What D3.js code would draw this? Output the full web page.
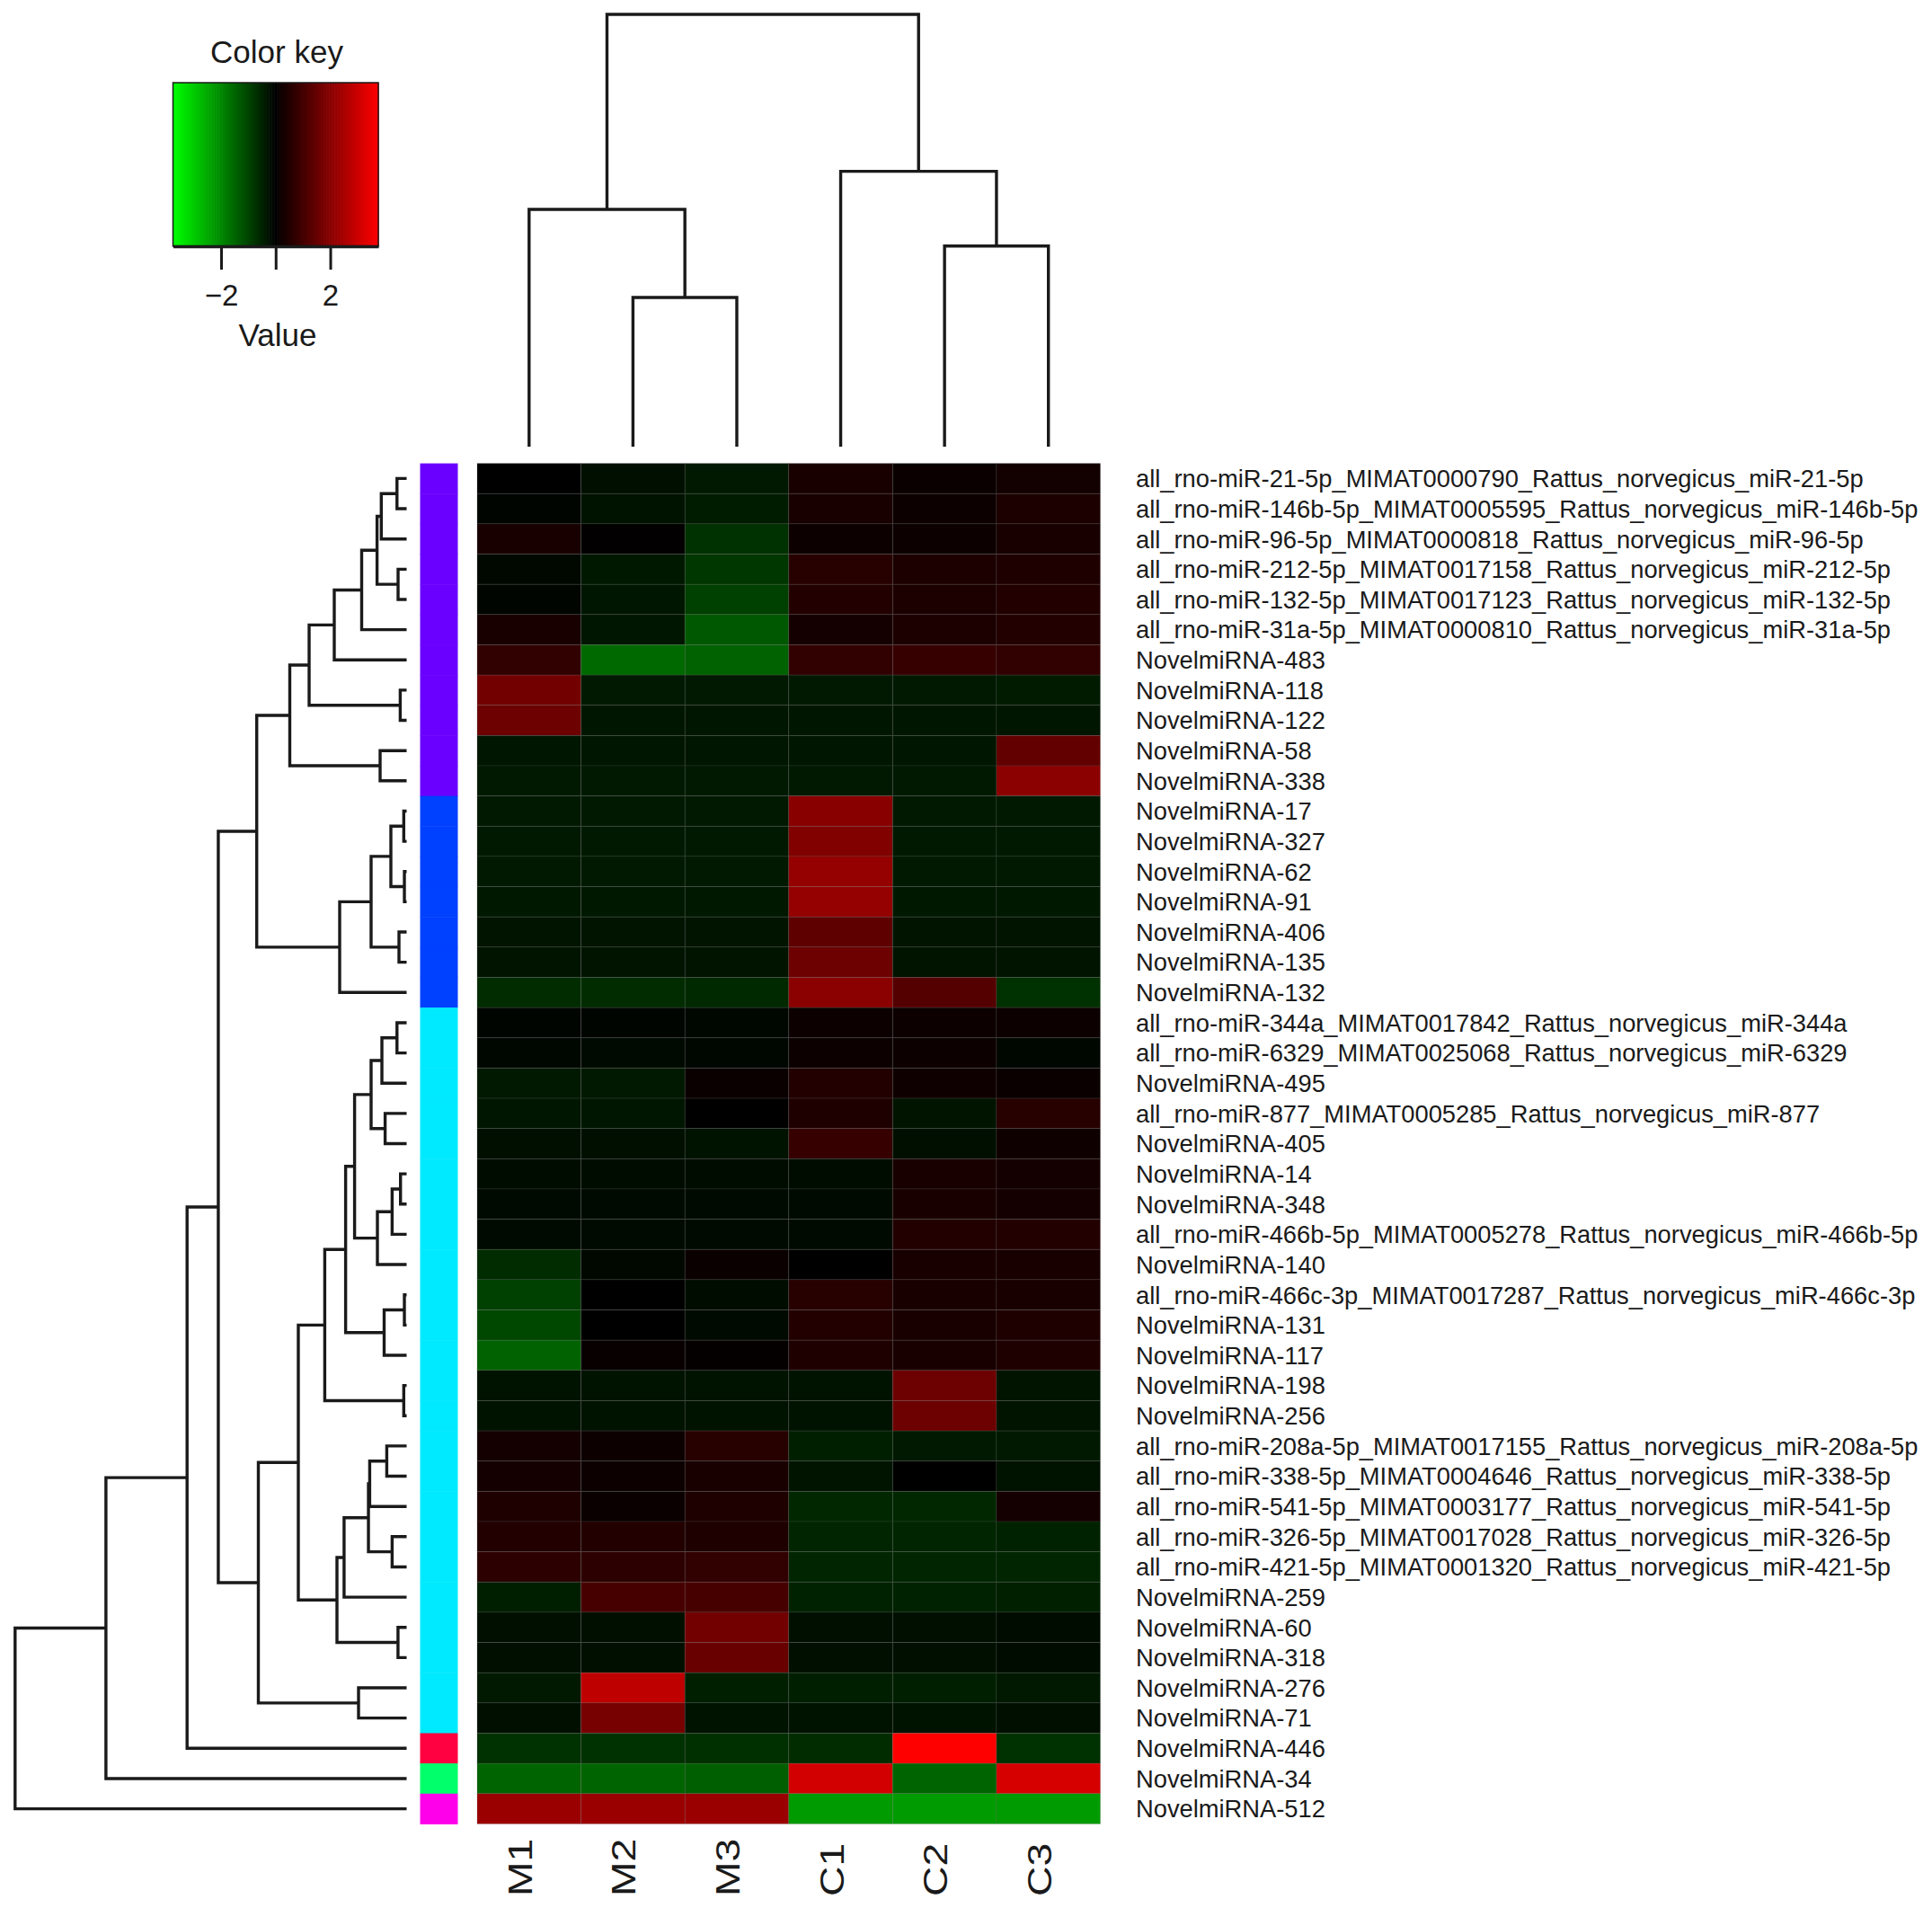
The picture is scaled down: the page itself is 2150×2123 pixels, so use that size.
<!DOCTYPE html>
<html>
<head>
<meta charset="utf-8">
<script src="https://cdn.jsdelivr.net/npm/d3@7"></script>
<style>
  html, body { margin: 0; padding: 0; background: #ffffff; }
  svg { display: block; }
  text { font-family: "Liberation Sans", Arial, Helvetica, sans-serif; fill: #1a1a1a; }
</style>
</head>
<body>
<svg id="chart" width="2150" height="2123"></svg>
<script>
// ---------------- DATA ----------------
const rowNames = [
  "all_rno-miR-21-5p_MIMAT0000790_Rattus_norvegicus_miR-21-5p",
  "all_rno-miR-146b-5p_MIMAT0005595_Rattus_norvegicus_miR-146b-5p",
  "all_rno-miR-96-5p_MIMAT0000818_Rattus_norvegicus_miR-96-5p",
  "all_rno-miR-212-5p_MIMAT0017158_Rattus_norvegicus_miR-212-5p",
  "all_rno-miR-132-5p_MIMAT0017123_Rattus_norvegicus_miR-132-5p",
  "all_rno-miR-31a-5p_MIMAT0000810_Rattus_norvegicus_miR-31a-5p",
  "NovelmiRNA-483","NovelmiRNA-118","NovelmiRNA-122","NovelmiRNA-58","NovelmiRNA-338",
  "NovelmiRNA-17","NovelmiRNA-327","NovelmiRNA-62","NovelmiRNA-91","NovelmiRNA-406","NovelmiRNA-135","NovelmiRNA-132",
  "all_rno-miR-344a_MIMAT0017842_Rattus_norvegicus_miR-344a",
  "all_rno-miR-6329_MIMAT0025068_Rattus_norvegicus_miR-6329",
  "NovelmiRNA-495",
  "all_rno-miR-877_MIMAT0005285_Rattus_norvegicus_miR-877",
  "NovelmiRNA-405","NovelmiRNA-14","NovelmiRNA-348",
  "all_rno-miR-466b-5p_MIMAT0005278_Rattus_norvegicus_miR-466b-5p",
  "NovelmiRNA-140",
  "all_rno-miR-466c-3p_MIMAT0017287_Rattus_norvegicus_miR-466c-3p",
  "NovelmiRNA-131","NovelmiRNA-117","NovelmiRNA-198","NovelmiRNA-256",
  "all_rno-miR-208a-5p_MIMAT0017155_Rattus_norvegicus_miR-208a-5p",
  "all_rno-miR-338-5p_MIMAT0004646_Rattus_norvegicus_miR-338-5p",
  "all_rno-miR-541-5p_MIMAT0003177_Rattus_norvegicus_miR-541-5p",
  "all_rno-miR-326-5p_MIMAT0017028_Rattus_norvegicus_miR-326-5p",
  "all_rno-miR-421-5p_MIMAT0001320_Rattus_norvegicus_miR-421-5p",
  "NovelmiRNA-259","NovelmiRNA-60","NovelmiRNA-318","NovelmiRNA-276","NovelmiRNA-71",
  "NovelmiRNA-446","NovelmiRNA-34","NovelmiRNA-512"
];

const colNames = ["M1","M2","M3","C1","C2","C3"];

// values per sample column (row order as rowNames)
const valuesM1 = [0.0,-0.07,0.35,-0.12,-0.07,0.35,0.72,1.7,1.6,-0.32,-0.37,-0.37,-0.37,-0.37,-0.35,-0.3,-0.3,-0.65,-0.07,-0.1,-0.37,-0.32,-0.22,-0.18,-0.15,-0.15,-0.65,-0.95,-1.05,-1.45,-0.27,-0.27,0.3,0.3,0.45,0.5,0.65,-0.45,-0.22,-0.22,-0.37,-0.22,-0.72,-1.47,2.28];
const valuesM2 = [-0.22,-0.27,0.03,-0.35,-0.32,-0.32,-1.55,-0.37,-0.32,-0.32,-0.37,-0.37,-0.37,-0.37,-0.35,-0.3,-0.3,-0.65,-0.07,-0.15,-0.37,-0.32,-0.22,-0.18,-0.15,-0.15,-0.12,0.0,0.0,0.12,-0.27,-0.27,0.18,0.18,0.15,0.5,0.65,1.05,-0.22,-0.22,2.8,1.75,-0.72,-1.47,2.28];
const valuesM3 = [-0.37,-0.42,-0.72,-0.8,-0.95,-1.3,-1.45,-0.37,-0.32,-0.32,-0.37,-0.37,-0.37,-0.37,-0.35,-0.3,-0.3,-0.6,-0.1,-0.1,0.15,0.0,-0.27,-0.18,-0.15,-0.15,0.15,-0.18,-0.15,0.07,-0.27,-0.27,0.58,0.37,0.45,0.45,0.72,1.05,1.7,1.55,-0.45,-0.27,-0.7,-1.4,2.28];
const valuesC1 = [0.37,0.35,0.18,0.58,0.5,0.3,0.72,-0.37,-0.32,-0.32,-0.37,2.0,1.9,2.2,2.2,1.4,1.6,2.05,0.18,0.18,0.5,0.45,0.8,-0.18,-0.15,-0.15,0.0,0.58,0.5,0.45,-0.27,-0.27,-0.45,-0.3,-0.58,-0.55,-0.55,-0.5,-0.22,-0.22,-0.45,-0.27,-0.65,3.1,-2.28];
const valuesC2 = [0.15,0.17,0.17,0.42,0.42,0.42,0.8,-0.37,-0.32,-0.32,-0.37,-0.37,-0.37,-0.37,-0.35,-0.3,-0.3,1.25,0.18,0.18,0.22,-0.3,-0.22,0.37,0.37,0.5,0.37,0.37,0.37,0.37,1.6,1.6,-0.37,0.0,-0.58,-0.55,-0.55,-0.5,-0.22,-0.22,-0.45,-0.27,3.76,-1.47,-2.28];
const valuesC3 = [0.28,0.42,0.35,0.45,0.5,0.5,0.72,-0.4,-0.32,1.45,2.05,-0.37,-0.37,-0.37,-0.35,-0.3,-0.3,-0.72,0.18,-0.1,0.15,0.58,0.22,0.3,0.3,0.5,0.37,0.37,0.45,0.45,-0.3,-0.3,-0.37,-0.27,0.3,-0.5,-0.55,-0.47,-0.18,-0.18,-0.37,-0.22,-0.72,3.15,-2.28];

// row cluster membership (side colour bar)
const rowGroup = [0,0,0,0,0,0,0,0,0,0,0, 1,1,1,1,1,1,1,
  2,2,2,2,2,2,2,2,2,2,2,2,2,2,2,2,2,2,2,2,2,2,2,2, 3, 4, 5];
const groupColors = ["#6A00FF","#0040FF","#00EAFF","#FF0040","#00FF6A","#FF00EA"];

// dendrograms: [left, right, height]; numbers are leaf (row / column) indices
const treePurple = [[[[[0,1,0.0246],2,0.0647],[3,4,0.0218],0.0755],5,0.1148],6,0.1848];
const treePurpleB = [treePurple,[7,8,0.0163],0.249];
const treePurpleAll = [treePurpleB,[9,10,0.0677],0.2984];
const treeBlue = [[[[11,12,0.0073],[13,14,0.0057],0.0402],[15,16,0.0195],0.0907],17,0.171];
const treeCyanA = [[[18,19,0.0246],20,0.0631],[21,22,0.0549],0.0907];
const treeCyanB = [[[23,24,0.0156],25,0.037],26,0.0746];
const treeCyanC = [[27,28,0.0057],29,0.0574];
const treeCyanG1 = [[[treeCyanA,treeCyanB,0.1329],treeCyanC,0.1558],[30,31,0.0073],0.2091];
const treeCyanE = [[[[32,33,0.0507],34,0.0943],[35,36,0.037],0.0975],37,0.1597];
const treeCyanG2 = [treeCyanE,[38,39,0.022],0.1779];
const treeCyan = [[treeCyanG1,treeCyanG2,0.2766],[40,41,0.1228],0.3787];
const rowTree = [[[[[treePurpleAll,treeBlue,0.3828],treeCyan,0.481],42,0.5607],43,0.768],44,1.0];
const colTree = [[0,[1,2,0.345],0.549],[3,[4,5,0.464],0.637],1.0];

const keyTicks = [-2, 0, 2];
const keyLimit = 3.76;

// ---------------- DRAW ----------------
const svg = d3.select("#chart");
const cols = [valuesM1, valuesM2, valuesM3, valuesC1, valuesC2, valuesC3];

const x = d3.scaleBand().domain(d3.range(colNames.length)).range([531, 1224.5]).paddingInner(0);
const y = d3.scaleBand().domain(d3.range(rowNames.length)).range([515.6, 2029.4]).paddingInner(0);
const color = d3.scaleLinear().domain([-keyLimit, 0, keyLimit]).range(["#00FF00", "#000000", "#FF0000"]).clamp(true);

// heatmap cells
const cells = [];
cols.forEach((arr, c) => arr.forEach((v, r) => cells.push({r, c, v})));
svg.append("g").selectAll("rect").data(cells).join("rect")
  .attr("x", d => x(d.c)).attr("y", d => y(d.r))
  .attr("width", x.bandwidth()).attr("height", y.bandwidth())
  .attr("fill", d => color(d.v))
  .attr("stroke", "rgba(90,90,90,0.22)").attr("stroke-width", 1);

// side colour bar
svg.append("g").selectAll("rect").data(rowGroup).join("rect")
  .attr("x", 467.5).attr("y", (d, i) => y(i))
  .attr("width", 42).attr("height", y.bandwidth() + 0.5)
  .attr("fill", d => groupColors[d]);

// row labels
svg.append("g").selectAll("text").data(rowNames).join("text")
  .attr("x", 1264).attr("y", (d, i) => y(i) + y.bandwidth() / 2)
  .attr("dy", "0.36em")
  .attr("font-size", 27.3)
  .text(d => d);

// column labels (rotated, slightly elongated like the original figure)
svg.append("g").selectAll("text").data(colNames).join("text")
  .attr("transform", (d, i) => `translate(${x(i) + x.bandwidth() / 2 + 3},2110) rotate(-90) scale(1.25,1)`)
  .attr("text-anchor", "start")
  .attr("font-size", 37)
  .text(d => d);

// row dendrogram
const rowH = d3.scaleLinear().domain([0, 1]).range([452.5, 16.8]);
const rowDend = svg.append("g").attr("fill", "none").attr("stroke", "#1a1a1a").attr("stroke-width", 3.4);
function drawRow(node) {
  if (typeof node === "number") return {p: y(node) + y.bandwidth() / 2, h: 0};
  const a = drawRow(node[0]), b = drawRow(node[1]), h = node[2];
  rowDend.append("path").attr("d",
    `M${rowH(a.h)},${a.p}H${rowH(h)}V${b.p}H${rowH(b.h)}`);
  return {p: (a.p + b.p) / 2, h};
}
drawRow(rowTree);

// column dendrogram
const colH = d3.scaleLinear().domain([0, 1]).range([497, 16]);
const colDend = svg.append("g").attr("fill", "none").attr("stroke", "#1a1a1a").attr("stroke-width", 3.4);
function drawCol(node) {
  if (typeof node === "number") return {p: x(node) + x.bandwidth() / 2, h: 0};
  const a = drawCol(node[0]), b = drawCol(node[1]), h = node[2];
  colDend.append("path").attr("d",
    `M${a.p},${colH(a.h)}V${colH(h)}H${b.p}V${colH(b.h)}`);
  return {p: (a.p + b.p) / 2, h};
}
drawCol(colTree);

// colour key
const keyX = d3.scaleLinear().domain([-keyLimit, keyLimit]).range([192.5, 421]);
const keyTop = 92, keyBottom = 274;
const nBins = 75;
const bins = d3.range(nBins).map(i => -keyLimit + (i + 0.5) * (2 * keyLimit / nBins));
const binW = (keyX.range()[1] - keyX.range()[0]) / nBins;
svg.append("g").selectAll("rect").data(bins).join("rect")
  .attr("x", d => keyX(d) - binW / 2).attr("y", keyTop)
  .attr("width", binW + 0.6).attr("height", keyBottom - keyTop)
  .attr("fill", d => color(d));
svg.append("rect").attr("x", 192.5).attr("y", keyTop).attr("width", 421 - 192.5).attr("height", keyBottom - keyTop)
  .attr("fill", "none").attr("stroke", "#1a1a1a").attr("stroke-width", 1.5);

const keyAxis = d3.axisBottom(keyX).tickValues(keyTicks)
  .tickFormat(d => d === 0 ? "" : d3.format("d")(d))
  .tickSize(26).tickSizeOuter(0).tickPadding(17);
const ga = svg.append("g").attr("transform", `translate(0,${keyBottom})`).call(keyAxis);
ga.select(".domain").attr("stroke", "#1a1a1a").attr("stroke-width", 3.5);
ga.selectAll(".tick line").attr("stroke", "#1a1a1a").attr("stroke-width", 3);
ga.selectAll(".tick text").attr("font-size", 33).attr("fill", "#1a1a1a")
  .attr("font-family", "'Liberation Sans', Arial, Helvetica, sans-serif");

svg.append("text").attr("x", 308).attr("y", 70).attr("text-anchor", "middle")
  .attr("font-size", 35).text("Color key");
svg.append("text").attr("x", 309).attr("y", 385).attr("text-anchor", "middle")
  .attr("font-size", 35).text("Value");
</script>
</body>
</html>
